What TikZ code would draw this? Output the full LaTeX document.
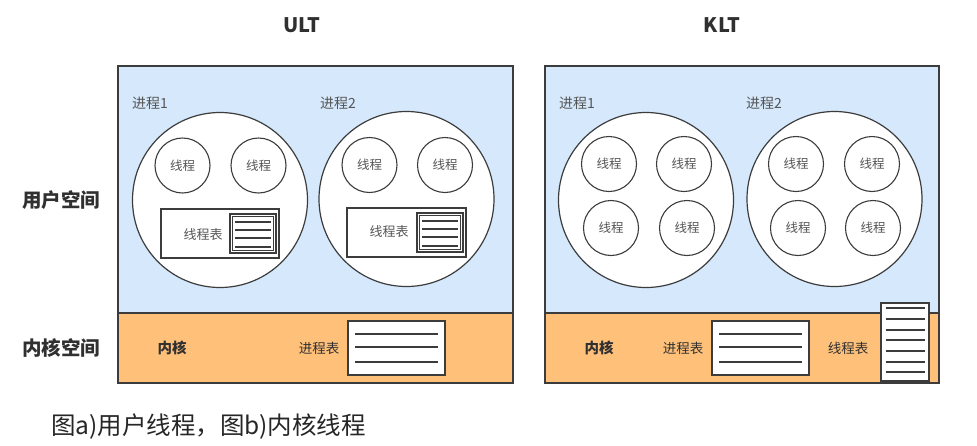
\documentclass[tikz,border=0pt]{standalone}
\usepackage{fontspec}
\setmainfont{Noto Sans CJK SC}
\usetikzlibrary{calc}
\definecolor{edge}{HTML}{3C3C3C}
\definecolor{userfill}{HTML}{D5E8FC}
\definecolor{kernfill}{HTML}{FFC07A}
\definecolor{softtext}{HTML}{555555}
\definecolor{darktext}{HTML}{303030}
\tikzset{
  every node/.style={inner sep=0pt, outer sep=0pt},
  usersp/.style={draw=edge, fill=userfill, line width=1.2pt, rectangle},
  kernsp/.style={draw=edge, fill=kernfill, line width=1.2pt, rectangle},
  proc/.style={draw=edge, fill=white, line width=1.2pt, circle, minimum size=175pt},
  thr/.style={draw=edge, fill=white, line width=1.1pt, circle, minimum size=55pt,
    font=\fontsize{12.5}{14}\selectfont, text=softtext},
  tbox/.style={draw=edge, fill=white, line width=1.2pt, rectangle},
  docline/.style={draw=edge, line width=1.1pt},
  plabel/.style={font=\fontsize{14}{16}\selectfont, text=softtext},
  klabel/.style={font=\fontsize{13.5}{16}\selectfont, text=darktext},
  side/.style={font=\fontsize{19.5}{22}\selectfont\bfseries, text=darktext},
  title/.style={font=\fontsize{20}{22}\selectfont\bfseries, text=darktext},
}
\begin{document}
\begin{tikzpicture}[x=1pt, y=-1pt]
\useasboundingbox (0,0) rectangle (977,445);

% ---------- titles and side labels ----------
\node[title] (tU) at (302,25) {ULT};
\node[title] (tK) at (722,25) {KLT};
\node[side] (sU) at (61,200) {用户空间};
\node[side] (sK) at (61,348) {内核空间};

% ---------- (a) user-level threads ----------
\node[usersp, minimum width=395pt, minimum height=247pt] (uA) at (315.5,189.5) {};
\node[kernsp, minimum width=395pt, minimum height=70pt] (kA) at (315.5,348) {};

\node[plabel] (pA1) at (150,103) {进程1};
\node[plabel] (pA2) at (338,103) {进程2};
\node[proc] (cA1) at (220,200) {};
\node[proc] (cA2) at (406.5,199) {};

\node[thr] (a11) at (182.5,165.5) {线程};
\node[thr] (a12) at (258.5,165.5) {线程};
\node[thr] (a21) at (369.5,165) {线程};
\node[thr] (a22) at (445,165) {线程};

% thread tables inside the processes
\node[tbox, minimum width=118pt, minimum height=49pt] (tbA1) at (220,233.5) {};
\node[plabel, font=\fontsize{13}{15}\selectfont] (ttA1) at (203,235) {线程表};
\node[tbox, minimum width=46pt, minimum height=39pt] (dA1) at (253,233.5) {};
\draw[edge, line width=0.8pt] ($(dA1.north west)+(2.5,2.5)$) rectangle ($(dA1.south east)+(-2.5,-2.5)$);
\foreach \yy in {-11.5,-3.5,4.5,13.5}
  \draw[docline] ($(dA1.center)+(-18,\yy)$) -- ($(dA1.center)+(18,\yy)$);

\node[tbox, minimum width=119pt, minimum height=49pt] (tbA2) at (406.5,232.5) {};
\node[plabel, font=\fontsize{13}{15}\selectfont] (ttA2) at (389,232) {线程表};
\node[tbox, minimum width=46pt, minimum height=39pt] (dA2) at (440,232.5) {};
\draw[edge, line width=0.8pt] ($(dA2.north west)+(2.5,2.5)$) rectangle ($(dA2.south east)+(-2.5,-2.5)$);
\foreach \yy in {-11.5,-3.5,4.5,13.5}
  \draw[docline] ($(dA2.center)+(-18,\yy)$) -- ($(dA2.center)+(18,\yy)$);

% kernel part
\node[klabel, font=\fontsize{14.5}{16}\selectfont\bfseries] (knA) at (172,348) {内核};
\node[klabel] (ptA) at (319,348) {进程表};
\node[tbox, minimum width=97pt, minimum height=54pt] (pdA) at (396.5,348) {};
\foreach \yy in {-14,-1,14}
  \draw[docline] ($(pdA.center)+(-41.5,\yy)$) -- ($(pdA.center)+(41.5,\yy)$);

% ---------- (b) kernel-level threads ----------
\node[usersp, minimum width=394pt, minimum height=247pt] (uB) at (742,189.5) {};
\node[kernsp, minimum width=394pt, minimum height=70pt] (kB) at (742,348) {};

\node[plabel] (pB1) at (577,103) {进程1};
\node[plabel] (pB2) at (764,103) {进程2};
\node[proc] (cB1) at (646,200) {};
\node[proc] (cB2) at (834.5,199) {};

\node[thr] (b11) at (609,164) {线程};
\node[thr] (b12) at (684,164) {线程};
\node[thr] (b13) at (611,228) {线程};
\node[thr] (b14) at (687,228) {线程};
\node[thr] (b21) at (796,164) {线程};
\node[thr] (b22) at (872,164) {线程};
\node[thr] (b23) at (798,228) {线程};
\node[thr] (b24) at (873,228) {线程};

% kernel part
\node[klabel, font=\fontsize{14.5}{16}\selectfont\bfseries] (knB) at (599,348) {内核};
\node[klabel] (ptB) at (683,348) {进程表};
\node[tbox, minimum width=97pt, minimum height=54pt] (pdB) at (760.5,348) {};
\foreach \yy in {-14,-1,14}
  \draw[docline] ($(pdB.center)+(-41.5,\yy)$) -- ($(pdB.center)+(41.5,\yy)$);

\node[klabel] (ttB) at (848,348) {线程表};
\node[tbox, minimum width=48pt, minimum height=78pt] (tdB) at (905,342) {};
\foreach \yy in {-34,-23,-12,-2,9,20,30}
  \draw[docline] ($(tdB.center)+(-19.5,\yy)$) -- ($(tdB.center)+(19.5,\yy)$);

% ---------- caption ----------
\node[font=\fontsize{24.5}{28}\selectfont, text=black!85, anchor=west] (cap) at (51,427) {图a)用户线程，图b)内核线程};
\end{tikzpicture}
\end{document}
